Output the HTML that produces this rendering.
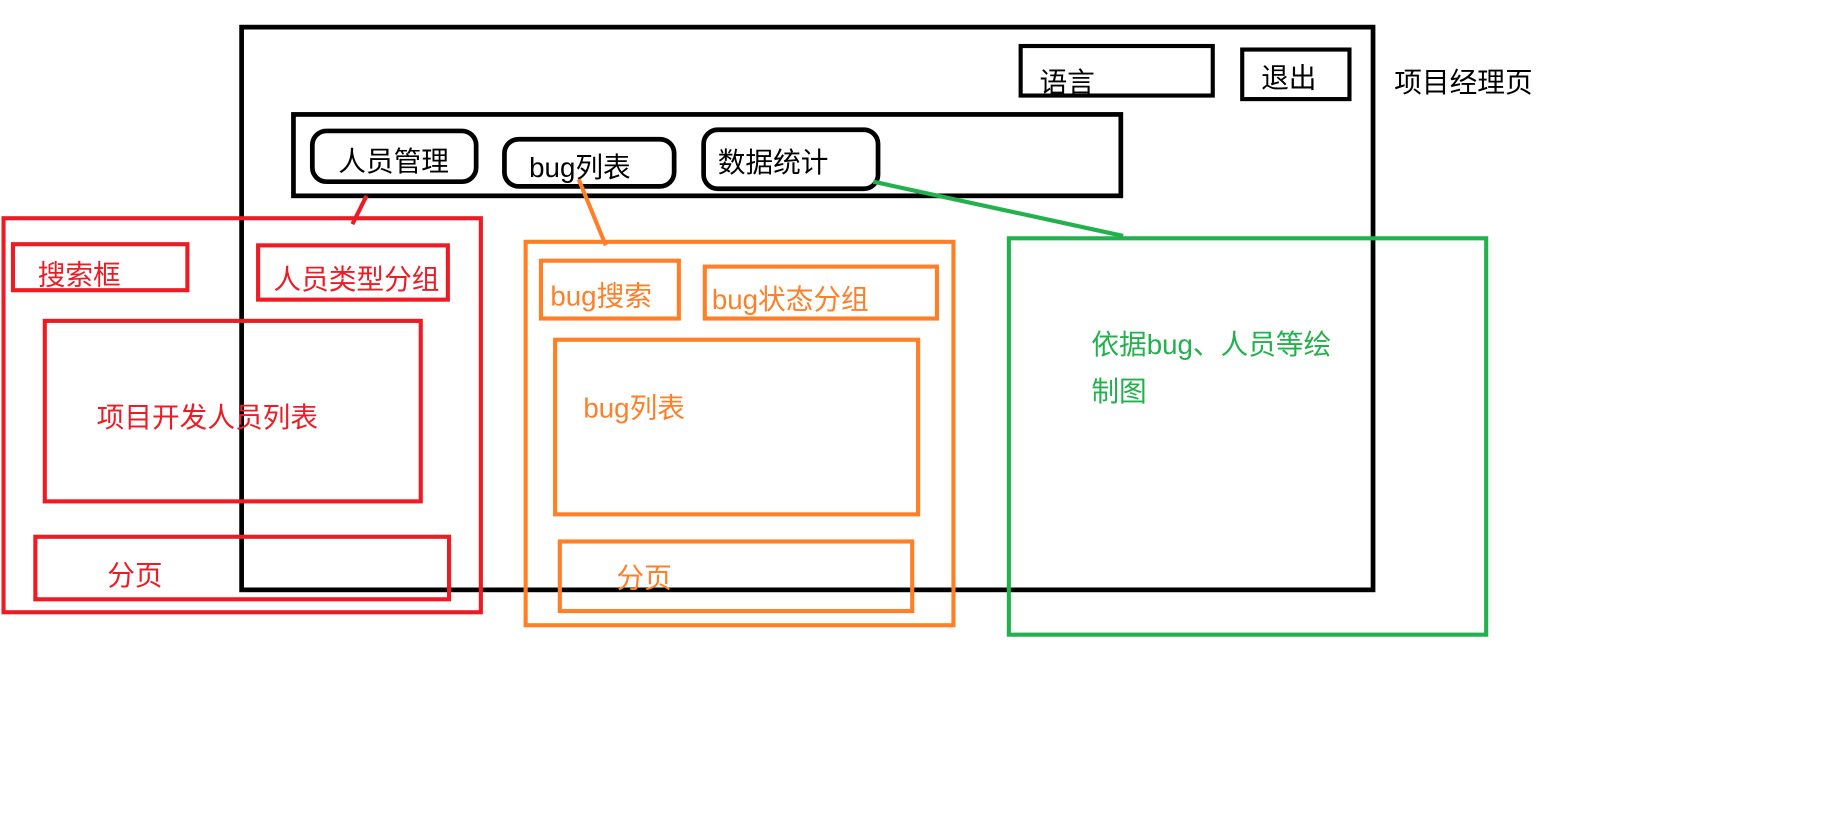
<!DOCTYPE html>
<html><head><meta charset="utf-8"><style>
html,body{margin:0;padding:0;background:#fff;width:1848px;height:814px;overflow:hidden}
svg{display:block}
text{font-family:"Liberation Sans","Noto Sans CJK SC",sans-serif;font-size:23.5px}
</style></head><body>
<svg width="1848" height="814" viewBox="0 0 1568 690" preserveAspectRatio="none" xmlns="http://www.w3.org/2000/svg">
<g fill="none" stroke="#000" stroke-width="4">
<rect x="205" y="23" width="960" height="477"/>
<rect x="866" y="39" width="163" height="42" stroke-width="3.5"/>
<rect x="1054" y="42" width="91" height="42" stroke-width="3.5"/>
<rect x="249" y="97" width="702" height="69"/>
<rect x="265" y="111" width="139" height="43" rx="12"/>
<rect x="428" y="118" width="144" height="40" rx="12"/>
<rect x="597" y="110" width="148" height="50" rx="12"/>
</g>
<g fill="#000">
<text x="882" y="78">语言</text>
<text x="1070" y="74">退出</text>
<text x="1183" y="78">项目经理页</text>
<text x="287" y="145">人员管理</text>
<text x="449" y="150">bug列表</text>
<text x="609" y="146">数据统计</text>
</g>
<g fill="none" stroke="#ed1c24" stroke-width="3.5">
<line x1="311" y1="166" x2="299" y2="190"/>
<rect x="3" y="185" width="405" height="334"/>
<rect x="11" y="207" width="148" height="39"/>
<rect x="219" y="208" width="161" height="46"/>
<rect x="38" y="272" width="319" height="153"/>
<rect x="30" y="455" width="351" height="53"/>
</g>
<g fill="#ed1c24">
<text x="32" y="241">搜索框</text>
<text x="232" y="245">人员类型分组</text>
<text x="82" y="362">项目开发人员列表</text>
<text x="91" y="496">分页</text>
</g>
<g fill="none" stroke="#ff7f27" stroke-width="3.5">
<line x1="491" y1="152" x2="514" y2="208"/>
<rect x="446" y="205" width="363" height="325"/>
<rect x="459" y="221" width="117" height="49"/>
<rect x="598" y="226" width="197" height="44"/>
<rect x="471" y="288" width="308" height="148"/>
<rect x="475" y="459" width="299" height="59"/>
</g>
<g fill="#ff7f27">
<text x="467" y="259">bug搜索</text>
<text x="604" y="262">bug状态分组</text>
<text x="495" y="354">bug列表</text>
<text x="523" y="498">分页</text>
</g>
<g fill="none" stroke="#22b14c" stroke-width="3.5">
<line x1="741" y1="154" x2="953" y2="200"/>
<rect x="856" y="202" width="405" height="336"/>
</g>
<g fill="#22b14c">
<text x="926" y="300">依据bug、人员等绘</text>
<text x="926" y="340">制图</text>
</g>
</svg>
</body></html>
